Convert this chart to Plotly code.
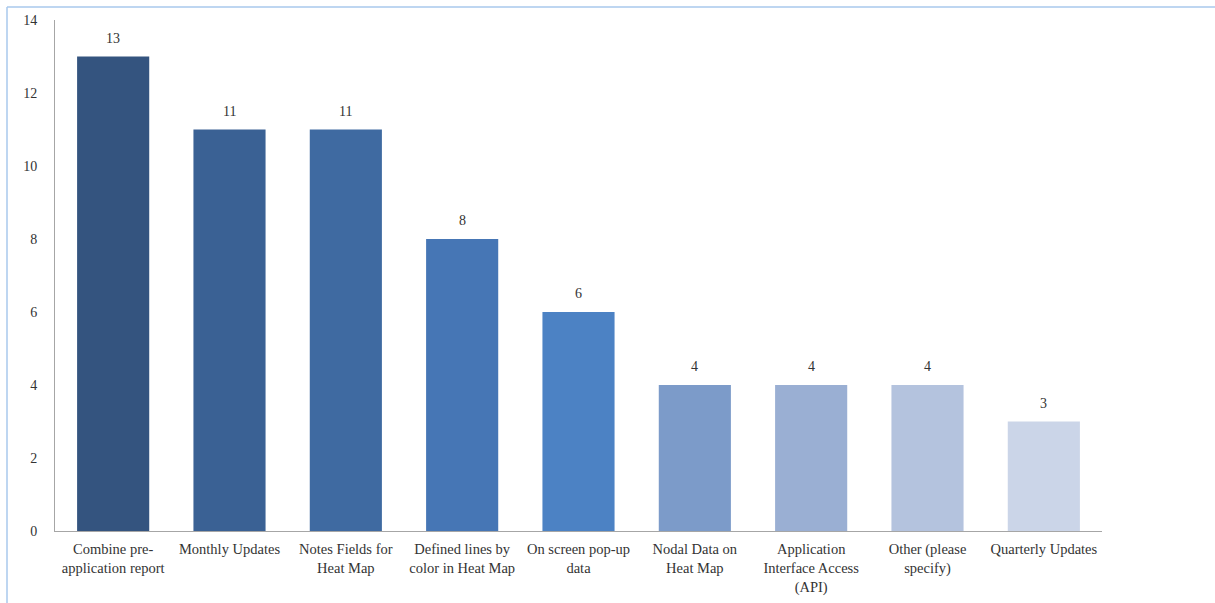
import plotly.graph_objects as go

categories = [
    "Combine pre-<br>application report",
    "Monthly Updates",
    "Notes Fields for<br>Heat Map",
    "Defined lines by<br>color in Heat Map",
    "On screen pop-up<br>data",
    "Nodal Data on<br>Heat Map",
    "Application<br>Interface Access<br>(API)",
    "Other (please<br>specify)",
    "Quarterly Updates",
]
values = [13, 11, 11, 8, 6, 4, 4, 4, 3]
colors = ["#34547f", "#3a6194", "#3f6aa1", "#4676b5", "#4c82c4",
          "#7c9bc9", "#9aafd3", "#b4c3de", "#cbd5e8"]

W, H = 1215, 603
L, R, T, B = 55, 113, 20, 72
pw, ph = W - L - R, H - T - B
FONT = "'Liberation Serif', 'Times New Roman', serif"

fig = go.Figure(go.Bar(
    x=categories, y=values,
    marker=dict(color=colors, line=dict(width=0)),
    width=0.62,
    cliponaxis=False,
))

for c, v in zip(categories, values):
    fig.add_annotation(x=c, y=v, text=str(v), showarrow=False,
                       yanchor="bottom", yshift=9,
                       font=dict(family=FONT, size=14, color="#333333"))

fig.update_layout(
    width=W, height=H,
    margin=dict(l=L, r=R, t=T, b=B),
    paper_bgcolor="white", plot_bgcolor="white",
    font=dict(family=FONT, size=14, color="#333333"),
    showlegend=False,
    bargap=0.38,
    xaxis=dict(showline=True, linecolor="#a6a6a6", linewidth=1,
               ticks="", ticklabelstandoff=5, automargin=False,
               tickfont=dict(family=FONT, size=14.5)),
    yaxis=dict(range=[0, 14], dtick=2, showline=True, linecolor="#a6a6a6",
               linewidth=1, showgrid=False, zeroline=False, ticks="",
               ticklabelstandoff=14, automargin=False,
               tickfont=dict(family=FONT, size=14)),
    shapes=[
        dict(type="line", xref="paper", yref="paper",
             x0=(7 - L) / pw, x1=(W - L) / pw,
             y0=1 + (T - 7) / ph, y1=1 + (T - 7) / ph,
             line=dict(color="#a9c8ec", width=1.5)),
        dict(type="line", xref="paper", yref="paper",
             x0=(7 - L) / pw, x1=(7 - L) / pw,
             y0=1 + (T - 7) / ph, y1=-(H - (T + ph)) / ph,
             line=dict(color="#a9c8ec", width=1.5)),
    ],
)

fig.write_html("out.html")
